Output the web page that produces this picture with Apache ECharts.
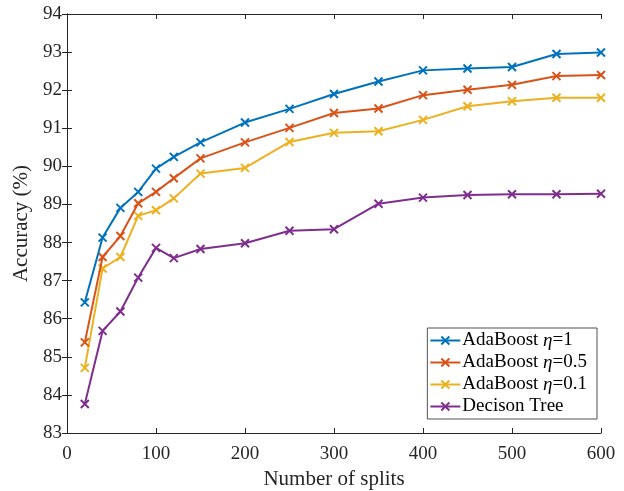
<!DOCTYPE html>
<html>
<head>
<meta charset="utf-8">
<script src="https://cdn.jsdelivr.net/npm/echarts@6/dist/echarts.min.js"></script>
<style>
  html, body { margin: 0; padding: 0; background: #fff; }
  #chart { width: 624px; height: 491px; }
</style>
</head>
<body>
<div id="chart"></div>
<script>
// Number of splits on the x axis
const splits = [20, 40, 60, 80, 100, 120, 150, 200, 250, 300, 350, 400, 450, 500, 550, 600];

// Accuracy (%) for each model
const adaEta1   = [86.43, 88.13, 88.91, 89.33, 89.94, 90.25, 90.63, 91.15, 91.51, 91.90, 92.23, 92.52, 92.57, 92.61, 92.95, 92.99];
const adaEta05  = [85.38, 87.62, 88.17, 89.03, 89.33, 89.69, 90.21, 90.63, 91.01, 91.40, 91.52, 91.87, 92.01, 92.14, 92.37, 92.40];
const adaEta01  = [84.71, 87.32, 87.62, 88.70, 88.85, 89.16, 89.81, 89.96, 90.64, 90.88, 90.92, 91.22, 91.58, 91.71, 91.80, 91.80];
const decTree   = [83.76, 85.68, 86.19, 87.08, 87.86, 87.59, 87.83, 87.98, 88.31, 88.35, 89.02, 89.18, 89.25, 89.27, 89.27, 89.28];

const seriesNames = ['AdaBoost η=1', 'AdaBoost η=0.5', 'AdaBoost η=0.1', 'Decison Tree'];
const seriesData = [adaEta1, adaEta05, adaEta01, decTree];
const colors = ['#0072BD', '#D95319', '#EDB120', '#7E2F8E'];

const FONT = '"Liberation Serif", "DejaVu Serif", serif';
const AXIS_COLOR = '#262626';
const crossMark = 'path://M0,0 L10,10 M10,0 L0,10';

const series = seriesNames.map((name, i) => ({
  name: name,
  type: 'line',
  data: splits.map((x, j) => [x, seriesData[i][j]]),
  symbol: crossMark,
  symbolSize: 8,
  showAllSymbol: true,
  lineStyle: { width: 2, color: colors[i] },
  itemStyle: { color: colors[i], borderColor: colors[i], borderWidth: 2 },
  emphasis: { disabled: true },
  animation: false,
  z: 10 - i
}));

const chart = echarts.init(document.getElementById('chart'), null, { renderer: 'canvas' });

const baseAxisLine = { show: true, lineStyle: { color: AXIS_COLOR, width: 1 } };
const innerTick = { show: true, inside: true, length: 5, lineStyle: { color: AXIS_COLOR } };

chart.setOption({
  animation: false,
  backgroundColor: '#fff',
  color: colors,
  grid: { left: 67, right: 23, top: 14, bottom: 58, containLabel: false, outerBoundsMode: 'none' },
  legend: {
    orient: 'vertical',
    right: 27,
    bottom: 72,
    itemWidth: 30,
    itemHeight: 10,
    itemGap: 3,
    padding: [3, 10, 3, 2],
    backgroundColor: '#fff',
    borderColor: AXIS_COLOR,
    borderWidth: 0.8,
    borderRadius: 0,
    data: seriesNames,
    formatter: name => name.replace('η', '{i|η}'),
    textStyle: {
      fontFamily: FONT,
      fontSize: 19,
      color: '#000',
      padding: [0, 0, 0, -3],
      rich: { i: { fontFamily: FONT, fontSize: 19, fontStyle: 'italic', color: '#000' } }
    }
  },
  xAxis: [{
    type: 'value',
    min: 0, max: 600, interval: 100,
    name: 'Number of splits',
    nameLocation: 'middle',
    nameGap: 35,
    nameTextStyle: { fontFamily: FONT, fontSize: 21, color: AXIS_COLOR },
    axisLine: baseAxisLine,
    axisTick: innerTick,
    axisLabel: { fontFamily: FONT, fontSize: 19, color: AXIS_COLOR, margin: 12 },
    splitLine: { show: false }
  }, {
    type: 'value', position: 'top',
    min: 0, max: 600, interval: 100,
    axisLine: baseAxisLine,
    axisTick: innerTick,
    axisLabel: { show: false },
    splitLine: { show: false }
  }],
  yAxis: [{
    type: 'value',
    min: 83, max: 94, interval: 1,
    name: 'Accuracy (%)',
    nameLocation: 'middle',
    nameGap: 26,
    nameTextStyle: { fontFamily: FONT, fontSize: 21, color: AXIS_COLOR },
    axisLine: baseAxisLine,
    axisTick: innerTick,
    axisLabel: { fontFamily: FONT, fontSize: 19, color: AXIS_COLOR, margin: 5 },
    splitLine: { show: false }
  }, {
    type: 'value', position: 'right',
    min: 83, max: 94, interval: 1,
    axisLine: baseAxisLine,
    axisTick: innerTick,
    axisLabel: { show: false },
    splitLine: { show: false }
  }],
  series: series
});
</script>
</body>
</html>
